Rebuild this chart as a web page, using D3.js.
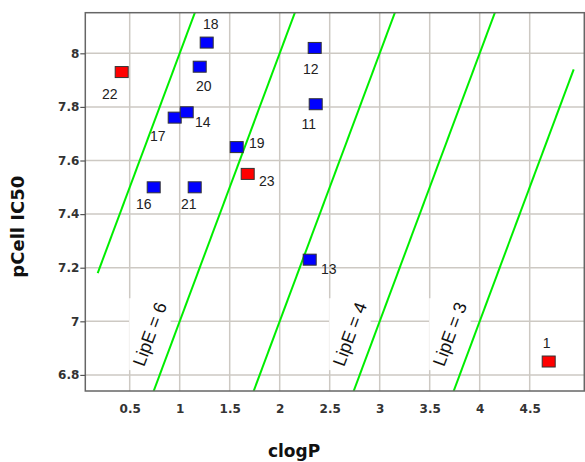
<!DOCTYPE html>
<html>
<head>
<meta charset="utf-8">
<script src="https://cdn.jsdelivr.net/npm/d3@7"></script>
<style>
  html, body { margin: 0; padding: 0; background: #fff; }
  svg { display: block; }
</style>
</head>
<body>
<svg id="chart" width="585" height="462"></svg>
<script>
// ---- data ----
const compoundIds = [22, 18, 20, 17, 14, 19, 23, 16, 21, 12, 11, 13, 1];
const clogPValues = [0.42, 1.27, 1.20, 0.95, 1.07, 1.57, 1.68, 0.74, 1.15, 2.35, 2.36, 2.30, 4.69];
const pIC50Values = [7.93, 8.04, 7.95, 7.76, 7.78, 7.65, 7.55, 7.50, 7.50, 8.02, 7.81, 7.23, 6.85];
const compoundGroup = ["red", "blue", "blue", "blue", "blue", "blue", "red", "blue", "blue", "blue", "blue", "blue", "red"];
const lipELevels = [7, 6, 5, 4, 3];
const lipELabelled = [6, 4, 3];
const lipERange = [0.18, 4.94];
const xTicks = [0.5, 1, 1.5, 2, 2.5, 3, 3.5, 4, 4.5];
const yTicks = [6.8, 7, 7.2, 7.4, 7.6, 7.8, 8];

// ---- layout ----
const labelOffsets = {
  22: [-12, 22], 18: [4, -19], 20: [4, 19], 17: [-17, 18], 14: [16, 10],
  19: [20, -4], 23: [19, 7], 16: [-10, 17], 21: [-6, 17], 12: [-4, 21],
  11: [-7, 20], 13: [19, 9], 1: [-2, -19]
};
const plot = { left: 85.3, right: 584.3, top: 12.7, bottom: 391 };
const colors = { blue: "#0000ff", red: "#ff0000" };

const svg = d3.select("#chart");
const x = d3.scaleLinear().domain([0.056, 5.046]).range([plot.left, plot.right]);
const y = d3.scaleLinear().domain([6.740, 8.1515]).range([plot.bottom, plot.top]);

svg.append("defs").append("clipPath").attr("id", "clip")
  .append("rect").attr("x", plot.left).attr("y", plot.top)
  .attr("width", plot.right - plot.left).attr("height", plot.bottom - plot.top);

// grid
const grid = svg.append("g").attr("stroke", "#cdc9c3").attr("stroke-width", 1.5);
grid.selectAll(".gx").data(xTicks).join("line")
  .attr("x1", d => x(d)).attr("x2", d => x(d)).attr("y1", plot.top).attr("y2", plot.bottom);
grid.selectAll(".gy").data(yTicks).join("line")
  .attr("x1", plot.left).attr("x2", plot.right).attr("y1", d => y(d)).attr("y2", d => y(d));

// LipE label backgrounds & labels
const slopeAngle = Math.atan2(y(7) - y(6), x(1) - x(0)) * 180 / Math.PI; // negative
const labelY = 6.952;
const labelG = svg.append("g");
lipELabelled.forEach(v => {
  const cx = x(labelY - v) - 25;
  const cy = y(labelY);
  const w = 70, h = 18;
  const a = Math.abs(slopeAngle) * Math.PI / 180;
  const bw = w * Math.cos(a) + h * Math.sin(a);
  const bh = w * Math.sin(a) + h * Math.cos(a);
  labelG.append("rect").attr("x", cx - bw / 2).attr("y", cy - bh / 2)
    .attr("width", bw).attr("height", bh).attr("fill", "#fff");
  labelG.append("text")
    .attr("transform", `translate(${cx},${cy}) rotate(${slopeAngle})`)
    .attr("text-anchor", "middle").attr("dominant-baseline", "central")
    .attr("font-family", "Liberation Sans, Arial, sans-serif").attr("font-size", 18)
    .attr("fill", "#111")
    .text(`LipE = ${v}`);
});

// LipE lines
const lineGen = d3.line().x(d => x(d[0])).y(d => y(d[1]));
svg.append("g").attr("clip-path", "url(#clip)")
  .selectAll("path").data(lipELevels).join("path")
  .attr("d", v => lineGen(lipERange.map(c => [c, c + v])))
  .attr("fill", "none").attr("stroke", "#00ee00").attr("stroke-width", 2);

// frame
svg.append("rect").attr("x", plot.left).attr("y", plot.top)
  .attr("width", plot.right - plot.left).attr("height", plot.bottom - plot.top)
  .attr("fill", "none").attr("stroke", "#666").attr("stroke-width", 1.5);

// axes
const fmt = d3.format("~g");
const yAxis = d3.axisLeft(y).tickValues(yTicks).tickSize(5).tickPadding(1).tickFormat(fmt);
const yg = svg.append("g").attr("transform", `translate(${plot.left},0)`).call(yAxis);
yg.select(".domain").remove();
yg.selectAll(".tick line").attr("stroke", "#555").attr("stroke-width", 1.2);
yg.selectAll(".tick text").attr("font-family", "DejaVu Sans").attr("font-weight", "bold")
  .attr("font-size", 12).attr("fill", "#333");

const xAxis = d3.axisBottom(x).tickValues(xTicks).tickSize(0).tickPadding(13).tickFormat(fmt);
const xg = svg.append("g").attr("transform", `translate(0,${plot.bottom})`).call(xAxis);
xg.select(".domain").remove();
xg.selectAll(".tick text").attr("font-family", "DejaVu Sans").attr("font-weight", "bold")
  .attr("font-size", 12).attr("fill", "#333");

// titles
svg.append("text").attr("x", 294).attr("y", 457).attr("text-anchor", "middle")
  .attr("font-family", "DejaVu Sans").attr("font-weight", "bold").attr("font-size", 17)
  .attr("fill", "#111").text("clogP");
svg.append("text").attr("transform", "translate(24,226.7) rotate(-90)").attr("text-anchor", "middle")
  .attr("font-family", "DejaVu Sans").attr("font-weight", "bold").attr("font-size", 18)
  .attr("fill", "#111").text("pCell IC50");

// points
const pts = compoundIds.map((id, i) => ({ id, cx: clogPValues[i], cy: pIC50Values[i], g: compoundGroup[i] }));
const pg = svg.append("g");
pg.selectAll("rect").data(pts).join("rect")
  .attr("x", d => x(d.cx) - 6.5).attr("y", d => y(d.cy) - 5.5)
  .attr("width", 13).attr("height", 11)
  .attr("fill", d => colors[d.g]).attr("stroke", "#333").attr("stroke-width", 1);
pg.selectAll("text").data(pts).join("text")
  .attr("x", d => x(d.cx) + labelOffsets[d.id][0])
  .attr("y", d => y(d.cy) + labelOffsets[d.id][1])
  .attr("text-anchor", "middle").attr("dominant-baseline", "central")
  .attr("font-family", "Liberation Sans, Arial, sans-serif").attr("font-size", 14)
  .attr("fill", "#222").text(d => d.id);
</script>
</body>
</html>
